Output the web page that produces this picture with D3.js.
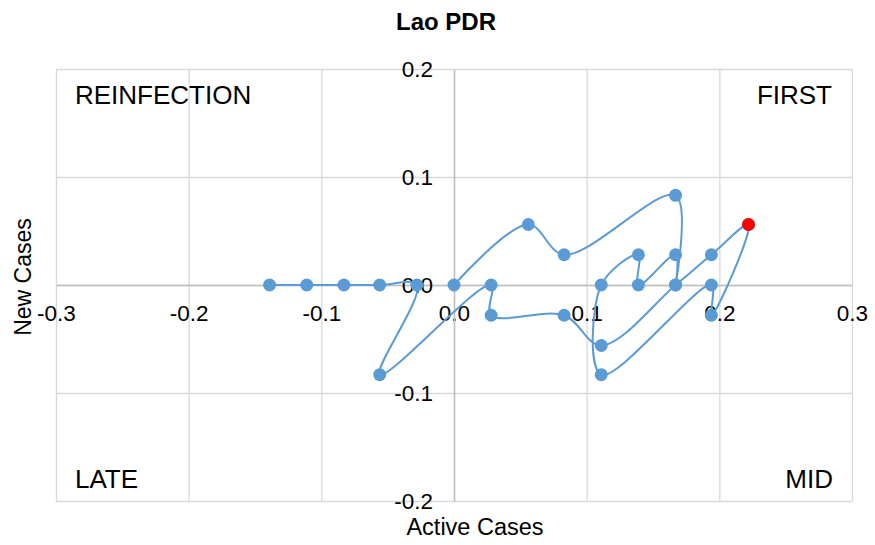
<!DOCTYPE html>
<html>
<head>
<meta charset="utf-8">
<script src="https://cdn.jsdelivr.net/npm/d3@7"></script>
<style>
  body { margin: 0; background: #fff; }
  text { font-family: "Liberation Sans", Arial, sans-serif; fill: #000; }
</style>
</head>
<body>
<div id="main"></div>
<script>
// path in time order (active cases change, new cases change)
var activeCases = [0, 0.056, 0.083, 0.167, 0.167, 0.167, 0.139, 0.139, 0.111, 0.111,
  0.194, 0.194, 0.222, 0.194, 0.167, 0.111, 0.083, 0.028, 0.028, -0.056,
  -0.028, -0.056, -0.083, -0.111, -0.139];
var newCases = [0, 0.056, 0.028, 0.083, 0, 0.028, 0, 0.028, 0, -0.083,
  0, -0.028, 0.056, 0.028, 0, -0.056, -0.028, -0.028, 0, -0.083,
  0, 0, 0, 0, 0];
// highlighted point
var highlightX = [0.222];
var highlightY = [0.056];

var xTicks = [-0.3, -0.2, -0.1, 0, 0.1, 0.2, 0.3];
var yTicks = [-0.2, -0.1, 0, 0.1, 0.2];
var quadrants = ["REINFECTION", "FIRST", "LATE", "MID"];

var width = 875, height = 545;
var margin = { top: 69, right: 23, bottom: 44, left: 56 };
var w = width - margin.left - margin.right,
  h = height - margin.top - margin.bottom;

var x = d3.scaleLinear().domain([-0.3, 0.3]).range([0, w]);
var y = d3.scaleLinear().domain([-0.2, 0.2]).range([h, 0]);

var svg = d3.select("#main").append("svg")
  .attr("width", width)
  .attr("height", height);

var g = svg.append("g")
  .attr("transform", "translate(" + margin.left + "," + margin.top + ")");

// grid
g.append("g")
  .attr("class", "grid")
  .call(d3.axisBottom(x).tickValues(xTicks).tickSize(h).tickFormat(""))
  .call(function(s) {
    s.select(".domain").remove();
    s.selectAll("line").attr("stroke", "#d9d9d9").attr("stroke-width", 1.3);
  });
g.append("g")
  .attr("class", "grid")
  .call(d3.axisLeft(y).tickValues(yTicks).tickSize(-w).tickFormat(""))
  .call(function(s) {
    s.select(".domain").remove();
    s.selectAll("line").attr("stroke", "#d9d9d9").attr("stroke-width", 1.3);
  });

// axes through zero, hyphen minus like excel
var fmt = function(d) { return d3.format(".1f")(d).replace("\u2212", "-"); };
g.append("g")
  .attr("transform", "translate(0," + y(0) + ")")
  .call(d3.axisBottom(x).tickValues(xTicks).tickSize(0).tickPadding(20).tickFormat(fmt))
  .call(function(s) {
    s.select(".domain").attr("stroke", "#bfbfbf").attr("stroke-width", 1.5);
    s.selectAll("text").style("font-size", "22.5px").attr("fill", "#000");
  });
g.append("g")
  .attr("transform", "translate(" + x(0) + ",0)")
  .call(d3.axisLeft(y).tickValues(yTicks).tickSize(0).tickPadding(21).tickFormat(fmt))
  .call(function(s) {
    s.select(".domain").attr("stroke", "#bfbfbf").attr("stroke-width", 1.5);
    s.selectAll("text").style("font-size", "22.5px").attr("fill", "#000");
  });

// quadrant names
var qpos = [
  { x: 19, y: 35, anchor: "start" },
  { x: w - 20, y: 35, anchor: "end" },
  { x: 19, y: h - 13, anchor: "start" },
  { x: w - 19, y: h - 13, anchor: "end" }
];
g.selectAll(".quad")
  .data(quadrants)
  .enter().append("text")
  .attr("class", "quad")
  .attr("x", function(d, i) { return qpos[i].x; })
  .attr("y", function(d, i) { return qpos[i].y; })
  .style("text-anchor", function(d, i) { return qpos[i].anchor; })
  .style("font-size", "26px")
  .text(function(d) { return d; });

// the path
var pts = activeCases.map(function(d, i) { return [d, newCases[i]]; });
var line = d3.line()
  .x(function(d) { return x(d[0]); })
  .y(function(d) { return y(d[1]); })
  .curve(d3.curveCatmullRom.alpha(0.5));

g.append("path")
  .datum(pts)
  .attr("fill", "none")
  .attr("stroke", "#5b9bd5")
  .attr("stroke-width", 2)
  .attr("d", line);

g.selectAll(".dot")
  .data(pts)
  .enter().append("circle")
  .attr("class", "dot")
  .attr("cx", function(d) { return x(d[0]); })
  .attr("cy", function(d) { return y(d[1]); })
  .attr("r", 6.5)
  .attr("fill", "#5b9bd5");

g.selectAll(".hl")
  .data(highlightX)
  .enter().append("circle")
  .attr("class", "hl")
  .attr("cx", function(d) { return x(d); })
  .attr("cy", function(d, i) { return y(highlightY[i]); })
  .attr("r", 6.5)
  .attr("fill", "#ff0000");

// titles
svg.append("text")
  .attr("x", 446)
  .attr("y", 30)
  .style("text-anchor", "middle")
  .style("font-size", "24px")
  .style("font-weight", "bold")
  .text("Lao PDR");

svg.append("text")
  .attr("x", 475)
  .attr("y", 535)
  .style("text-anchor", "middle")
  .style("font-size", "23.5px")
  .text("Active Cases");

svg.append("text")
  .attr("transform", "translate(31,277) rotate(-90)")
  .style("text-anchor", "middle")
  .style("font-size", "23px")
  .text("New Cases");
</script>
</body>
</html>
